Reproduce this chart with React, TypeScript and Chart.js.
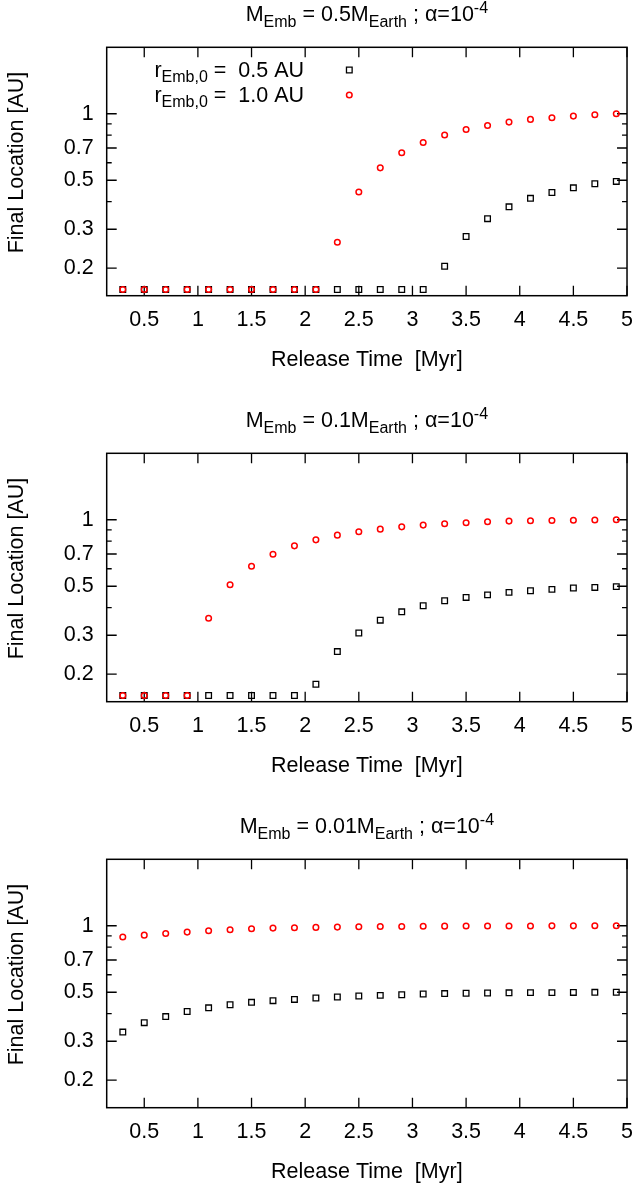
import React, { useEffect, useRef } from "react";
import { Chart, registerables } from "chart.js";

Chart.register(...registerables);

// ---- data ----
const releaseTimes = [0.3, 0.5, 0.7, 0.9, 1.1, 1.3, 1.5, 1.7, 1.9, 2.1, 2.3, 2.5, 2.7, 2.9, 3.1, 3.3, 3.5, 3.7, 3.9, 4.1, 4.3, 4.5, 4.7, 4.9];

const p1Black = [0.16, 0.16, 0.16, 0.16, 0.16, 0.16, 0.16, 0.16, 0.16, 0.16, 0.16, 0.16, 0.16, 0.16, 0.16, 0.204, 0.278, 0.335, 0.379, 0.414, 0.44, 0.462, 0.482, 0.494];
const p1Red = [0.16, 0.16, 0.16, 0.16, 0.16, 0.16, 0.16, 0.16, 0.16, 0.16, 0.262, 0.442, 0.569, 0.666, 0.741, 0.801, 0.849, 0.885, 0.917, 0.943, 0.959, 0.976, 0.99, 1.0];

const p2Black = [0.16, 0.16, 0.16, 0.16, 0.16, 0.16, 0.16, 0.16, 0.16, 0.18, 0.253, 0.307, 0.351, 0.383, 0.408, 0.43, 0.445, 0.457, 0.469, 0.477, 0.484, 0.491, 0.494, 0.498];
const p2Red = [0.16, 0.16, 0.16, 0.16, 0.358, 0.508, 0.616, 0.698, 0.762, 0.811, 0.852, 0.882, 0.907, 0.929, 0.946, 0.959, 0.969, 0.979, 0.986, 0.99, 0.993, 0.995, 0.997, 1.0];

const p3Black = [0.33, 0.364, 0.388, 0.409, 0.425, 0.439, 0.45, 0.458, 0.464, 0.471, 0.476, 0.481, 0.484, 0.487, 0.491, 0.493, 0.495, 0.496, 0.497, 0.498, 0.498, 0.499, 0.4995, 0.5];
const p3Red = [0.889, 0.907, 0.923, 0.936, 0.949, 0.959, 0.969, 0.976, 0.979, 0.983, 0.986, 0.99, 0.992, 0.993, 0.995, 0.996, 0.997, 0.997, 0.998, 0.998, 0.999, 0.999, 1.0, 1.0];

const panelMasses = ["0.5", "0.1", "0.01"];
const legendRadii = ["0.5", "1.0"];

const xTicks = [0.5, 1, 1.5, 2, 2.5, 3, 3.5, 4, 4.5, 5];
const yTicks = [0.2, 0.3, 0.4, 0.5, 0.6, 0.7, 0.8, 0.9, 1];
const yTickLabels = ["0.2", "0.3", "", "0.5", "", "0.7", "", "", "1"];

const xTitle = "Release Time  [Myr]";
const yTitle = "Final Location [AU]";

// ---- styling ----
const FONT = '"Liberation Sans", Arial, Helvetica, sans-serif';
const MAIN = 21.5;
const SUB = 16;
const RED = "#ff0000";

type Run = { t: string; size: number; dy: number };

function drawRuns(ctx: CanvasRenderingContext2D, runs: Run[], x: number, y: number, align: "left" | "center" | "right") {
  let total = 0;
  const widths = runs.map((r) => {
    ctx.font = `${r.size}px ${FONT}`;
    const w = ctx.measureText(r.t).width;
    total += w;
    return w;
  });
  let cx = align === "left" ? x : align === "center" ? x - total / 2 : x - total;
  ctx.textAlign = "left";
  ctx.textBaseline = "alphabetic";
  runs.forEach((r, i) => {
    ctx.font = `${r.size}px ${FONT}`;
    ctx.fillText(r.t, cx, y + r.dy);
    cx += widths[i];
  });
}

function drawSquare(ctx: CanvasRenderingContext2D, x: number, y: number, r: number) {
  const s = Math.SQRT1_2 * r;
  ctx.strokeStyle = "#000";
  ctx.lineWidth = 1.3;
  ctx.beginPath();
  ctx.rect(x - s, y - s, 2 * s, 2 * s);
  ctx.stroke();
}

function drawCircle(ctx: CanvasRenderingContext2D, x: number, y: number, r: number) {
  ctx.strokeStyle = RED;
  ctx.lineWidth = 1.5;
  ctx.beginPath();
  ctx.arc(x, y, r, 0, Math.PI * 2);
  ctx.stroke();
}

const SQ_R = 4;
const CI_R = 2.8;

const framePlugin = {
  id: "frameTicks",
  beforeDatasetsDraw(chart: any) {
    const { ctx, chartArea: a, scales } = chart;
    const xs = scales.x;
    const ys = scales.y;
    ctx.save();
    ctx.strokeStyle = "#000";
    ctx.lineWidth = 1.3;
    ctx.beginPath();
    yTicks.forEach((v, i) => {
      const py = ys.getPixelForValue(v);
      const len = yTickLabels[i] ? 10 : 5;
      ctx.moveTo(a.left, py);
      ctx.lineTo(a.left + len, py);
      ctx.moveTo(a.right - len, py);
      ctx.lineTo(a.right, py);
    });
    xTicks.forEach((v) => {
      const px = xs.getPixelForValue(v);
      ctx.moveTo(px, a.bottom);
      ctx.lineTo(px, a.bottom - 10);
      ctx.moveTo(px, a.top);
      ctx.lineTo(px, a.top + 10);
    });
    ctx.stroke();
    ctx.lineWidth = 1.5;
    ctx.strokeRect(a.left, a.top, a.right - a.left, a.bottom - a.top);
    ctx.restore();
  },
  afterDraw(chart: any, _args: any, opts: any) {
    const { ctx, chartArea: a } = chart;
    ctx.save();
    ctx.fillStyle = "#000";
    const cx = (a.left + a.right) / 2;
    // panel title
    drawRuns(
      ctx,
      [
        { t: "M", size: MAIN, dy: 0 },
        { t: "Emb", size: SUB, dy: 6.5 },
        { t: ` = ${opts.mass}M`, size: MAIN, dy: 0 },
        { t: "Earth", size: SUB, dy: 6.5 },
        { t: " ; \u03b1=10", size: MAIN, dy: 0 },
        { t: "-4", size: SUB, dy: -7.5 },
      ],
      cx,
      a.top - 26.6,
      "center"
    );
    // x title
    ctx.font = `${MAIN}px ${FONT}`;
    ctx.textAlign = "center";
    ctx.textBaseline = "alphabetic";
    ctx.fillText(xTitle, cx, a.bottom + 70.5);
    // y title
    ctx.save();
    ctx.translate(22.7, a.top + 115.2);
    ctx.rotate(-Math.PI / 2);
    ctx.textAlign = "center";
    ctx.fillText(yTitle, 0, 0);
    ctx.restore();
    // legend
    if (opts.legend) {
      legendRadii.forEach((r, i) => {
        const by = a.top + 29.4 + i * 25;
        ctx.fillStyle = "#000";
        drawRuns(
          ctx,
          [
            { t: "r", size: MAIN, dy: 0 },
            { t: "Emb,0", size: SUB, dy: 5 },
            { t: ` =  ${r} AU`, size: MAIN, dy: 0 },
          ],
          a.left + 197.3,
          by,
          "right"
        );
        const mx = a.left + 242.6;
        const my = by - 6.7;
        if (i === 0) drawSquare(ctx, mx, my, SQ_R);
        else drawCircle(ctx, mx, my, CI_R);
      });
    }
    ctx.restore();
  },
};

function makeConfig(black: number[], red: number[], mass: string, legend: boolean): any {
  return {
    type: "scatter",
    data: {
      datasets: [
        {
          label: "r = 1.0 AU",
          data: releaseTimes.map((t, i) => ({ x: t, y: red[i] })),
          pointStyle: "circle",
          pointRadius: CI_R,
          pointBorderWidth: 1.5,
          borderColor: RED,
          backgroundColor: "rgba(0,0,0,0)",
          showLine: false,
          order: 0,
        },
        {
          label: "r = 0.5 AU",
          data: releaseTimes.map((t, i) => ({ x: t, y: black[i] })),
          pointStyle: "rect",
          pointRadius: SQ_R,
          pointBorderWidth: 1.3,
          borderColor: "#000",
          backgroundColor: "rgba(0,0,0,0)",
          showLine: false,
          order: 1,
        },
      ],
    },
    options: {
      responsive: false,
      animation: false,
      devicePixelRatio: 1,
      layout: { padding: { top: 47.3, right: 9.7, bottom: 0, left: 0 } },
      plugins: {
        legend: { display: false },
        tooltip: { enabled: false },
        title: { display: false },
        frameTicks: { mass, legend },
      },
      scales: {
        x: {
          type: "linear",
          min: 0.15,
          max: 5,
          grid: { display: false, drawTicks: false },
          border: { display: false },
          afterBuildTicks: (s: any) => {
            s.ticks = xTicks.map((v) => ({ value: v }));
          },
          afterFit: (s: any) => {
            s.height = 77.3;
          },
          ticks: {
            autoSkip: false,
            maxRotation: 0,
            padding: 11,
            color: "#000",
            font: { family: FONT, size: MAIN },
            callback: (v: any) => String(v),
          },
        },
        y: {
          type: "logarithmic",
          min: 0.15,
          max: 2,
          grid: { display: false, drawTicks: false },
          border: { display: false },
          afterBuildTicks: (s: any) => {
            s.ticks = yTicks.map((v) => ({ value: v }));
          },
          afterFit: (s: any) => {
            s.width = 106.7;
          },
          ticks: {
            autoSkip: false,
            padding: 13,
            color: "#000",
            font: { family: FONT, size: MAIN },
            callback: (v: any) => {
              const idx = yTicks.indexOf(Number(v));
              return idx >= 0 ? yTickLabels[idx] : "";
            },
          },
        },
      },
    },
    plugins: [framePlugin],
  };
}

function Panel({ black, red, mass, legend, top }: { black: number[]; red: number[]; mass: string; legend: boolean; top: number }) {
  const ref = useRef<HTMLCanvasElement | null>(null);
  useEffect(() => {
    if (!ref.current) return;
    const chart = new Chart(ref.current, makeConfig(black, red, mass, legend));
    return () => chart.destroy();
  }, [black, red, mass, legend]);
  return (
    <canvas
      ref={ref}
      width={644}
      height={373}
      style={{ position: "absolute", left: 0, top, width: 644, height: 373, display: "block" }}
    />
  );
}

export default function App() {
  return (
    <div style={{ position: "absolute", left: 0, top: 0, width: 644, height: 1185, background: "#fff", overflow: "hidden" }}>
      <Panel black={p1Black} red={p1Red} mass={panelMasses[0]} legend={true} top={0} />
      <Panel black={p2Black} red={p2Red} mass={panelMasses[1]} legend={false} top={406} />
      <Panel black={p3Black} red={p3Red} mass={panelMasses[2]} legend={false} top={812} />
    </div>
  );
}
